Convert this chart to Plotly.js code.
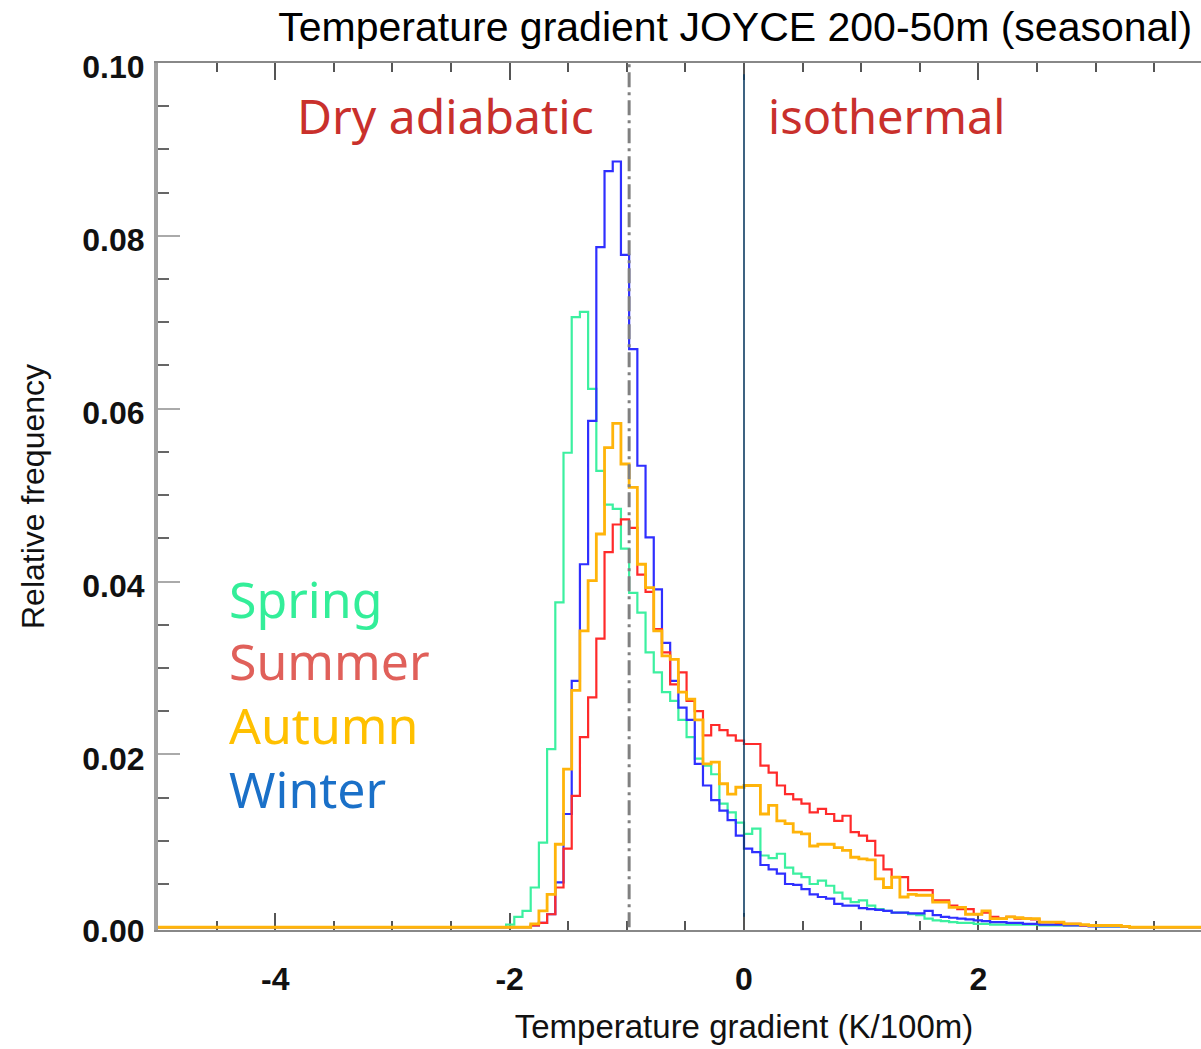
<!DOCTYPE html>
<html><head><meta charset="utf-8">
<script src="https://cdn.plot.ly/plotly-3.0.1.min.js"></script>
<style>html,body{margin:0;padding:0;overflow:hidden;background:#fff;width:1201px;height:1049px}#chart{width:1340px;height:1049px}</style>
</head><body><div id="chart"></div><script>
// Histogram bins: left edges at (firstBin + i) * binWidth  (K/100m)
const binWidth = 0.07;
const firstBin = -30;
const seasons = ["Spring", "Summer", "Autumn", "Winter"];
const xTickVals = [-4, -2, 0, 2];
const xTickText = ["-4", "-2", "0", "2"];
const spring = [0,0.0003,0.0012,0.0019,0.0046,0.0098,0.0206,0.0376,0.0549,0.0706,0.0712,0.0623,0.0528,0.0489,0.0484,0.0438,0.0387,0.0364,0.0318,0.0295,0.0272,0.0262,0.0240,0.0220,0.0195,0.0187,0.0177,0.0143,0.0133,0.0121,0.0108,0.0114,0.0083,0.0080,0.0085,0.0069,0.0062,0.0058,0.0050,0.0054,0.0048,0.0040,0.0033,0.0029,0.0031,0.0025,0.0021,0.0019,0.0017,0.0017,0.0015,0.0014,0.0010,0.0008,0.0007,0.0006,0.0005,0.0005,0.0004,0.0004,0.0003,0.0003,0.0003,0.0003,0.0003,0.0003,0.0002,0.0002,0.0002,0.0002,0.0002,0.0002,0.0002,0.0001,0.0001,0.0001,0.0001,0];
const summer = [0,0,0,0,0.0002,0.0005,0.0015,0.0046,0.0091,0.0152,0.0220,0.0266,0.0334,0.0434,0.0466,0.0472,0.0462,0.0408,0.0388,0.0345,0.0318,0.0281,0.0295,0.0262,0.0250,0.0222,0.0234,0.0228,0.0222,0.0216,0.0212,0.0212,0.0187,0.0179,0.0164,0.0154,0.0148,0.0143,0.0133,0.0137,0.0131,0.0123,0.0129,0.0110,0.0106,0.0100,0.0083,0.0067,0.0058,0.0058,0.0043,0.0043,0.0043,0.0031,0.0031,0.0025,0.0021,0.0021,0.0015,0.0017,0.0012,0.0010,0.0012,0.0010,0.0010,0.0009,0.0006,0.0006,0.0005,0.0004,0.0004,0.0002,0.0002,0.0002,0.0002,0.0002,0.0001,0];
const autumn = [0,0,0,0,0.0004,0.0019,0.0038,0.0096,0.0183,0.0274,0.0343,0.0401,0.0455,0.0555,0.0583,0.0536,0.0509,0.0420,0.0393,0.0343,0.0314,0.0310,0.0272,0.0264,0.0240,0.0189,0.0191,0.0166,0.0154,0.0162,0.0164,0.0164,0.0131,0.0141,0.0123,0.0120,0.0110,0.0108,0.0094,0.0096,0.0096,0.0092,0.0089,0.0081,0.0079,0.0078,0.0056,0.0046,0.0058,0.0035,0.0038,0.0037,0.0037,0.0029,0.0029,0.0023,0.0023,0.0015,0.0015,0.0019,0.0010,0.0010,0.0012,0.0011,0.0010,0.0010,0.0006,0.0006,0.0006,0.0004,0.0004,0.0003,0.0002,0.0002,0.0002,0.0002,0.0001,0];
const winter = [0,0,0,0,0.0002,0.0005,0.0015,0.0052,0.0131,0.0285,0.0420,0.0586,0.0787,0.0875,0.0886,0.0778,0.0669,0.0534,0.0451,0.0391,0.0329,0.0285,0.0254,0.0240,0.0189,0.0164,0.0147,0.0135,0.0124,0.0106,0.0091,0.0087,0.0072,0.0067,0.0062,0.0050,0.0049,0.0044,0.0038,0.0035,0.0033,0.0027,0.0025,0.0025,0.0022,0.0021,0.0020,0.0019,0.0017,0.0017,0.0016,0.0016,0.0019,0.0014,0.0012,0.0011,0.0010,0.0009,0.0008,0.0007,0.0006,0.0006,0.0005,0.0005,0.0004,0.0004,0.0003,0.0003,0.0003,0.0002,0.0002,0.0002,0.0001,0.0001,0.0001,0.0001,0.0001,0];
const dryAdiabatic = -0.98;
const isothermal = 0;

const xMin = -5, xMax = 5;
function stepTrace(vals, color, name) {
  const x = [xMin], y = [0];
  vals.forEach((v, i) => { x.push((firstBin + i) * binWidth); y.push(v); });
  x.push((firstBin + vals.length) * binWidth); y.push(0);
  x.push(xMax); y.push(0);
  return {x, y, type: 'scatter', mode: 'lines', name, line: {shape: 'hv', color, width: 2.2}, hoverinfo: 'skip', showlegend: false};
}
const traces = [
  stepTrace(spring, '#3cf0a0', seasons[0]),
  stepTrace(winter, '#2f2fff', seasons[3]),
  stepTrace(summer, '#ff2a2a', seasons[1]),
  stepTrace(autumn, '#ffb40a', seasons[2])
];
traces[3].line.width = 2.8;
const fam = 'Liberation Sans, Arial, sans-serif';
const annFam = 'Noto Sans, sans-serif';
const ann = (text, x, y, color, size) => ({text, x, y, xref: 'x', yref: 'y', xanchor: 'left', yanchor: 'middle', showarrow: false, font: {family: annFam, size: size || 48, color}});
const layout = {
  width: 1340, height: 1049,
  margin: {l: 158, r: 10, t: 63, b: 119},
  paper_bgcolor: '#fff', plot_bgcolor: '#fff',
  title: {text: 'Temperature gradient JOYCE 200-50m (seasonal)', font: {family: fam, size: 41, color: '#000'}, x: 0.4925, xref: 'paper', xanchor: 'center', y: 1 - 27/1049, yref: 'container', yanchor: 'middle'},
  xaxis: {range: [xMin, xMax], tickmode: 'array', tickvals: xTickVals, ticktext: xTickText, ticks: 'inside', ticklen: 17, tickwidth: 2, tickcolor: '#555',
    showline: true, linecolor: '#888', linewidth: 2, mirror: 'ticks', showgrid: false, zeroline: false, layer: 'below traces',
    minor: {tickmode: 'linear', tick0: 0, dtick: 0.5, ticks: 'inside', ticklen: 9, tickwidth: 2, tickcolor: '#555', showgrid: false},
    tickfont: {family: fam, size: 32, color: '#111', weight: 'bold'}, ticklabelstandoff: 20,
    title: {text: 'Temperature gradient (K/100m)', font: {family: fam, size: 33, color: '#111'}, standoff: 18}},
  yaxis: {range: [-0.00032, 0.1], tick0: 0, dtick: 0.02, tickformat: '.2f', ticks: 'inside', ticklen: 22, tickwidth: 2, tickcolor: '#aaa',
    showline: true, linecolor: '#a0a0a0', linewidth: 4, mirror: false, showgrid: false, zeroline: false, layer: 'below traces',
    minor: {dtick: 0.005, ticks: 'inside', ticklen: 11, tickwidth: 2, tickcolor: '#666', showgrid: false},
    tickfont: {family: fam, size: 32, color: '#111', weight: 'bold'}, ticklabelstandoff: 3, ticklabelshift: 4,
    title: {text: 'Relative frequency', font: {family: fam, size: 32, color: '#111'}, standoff: 29}},
  shapes: [
    {type: 'line', xref: 'x', yref: 'y', x0: dryAdiabatic, x1: dryAdiabatic, y0: 0, y1: 0.1, layer: 'above', line: {color: '#808080', width: 3, dash: '15px,5px,3px,5px'}},
    {type: 'line', xref: 'x', yref: 'y', x0: isothermal, x1: isothermal, y0: 0.0012, y1: 0.0987, layer: 'above', line: {color: '#0e3d63', width: 1.6}}
  ],
  annotations: [
    ann('Dry adiabatic', -3.83, 0.0939, '#c9302c'),
    ann('isothermal', 0.19, 0.0939, '#c9302c', 47),
    ann('Spring', -4.41, 0.0380, '#33ee99', 50),
    ann('Summer', -4.41, 0.0308, '#e0605a', 50),
    ann('Autumn', -4.41, 0.0234, '#ffc000', 50),
    ann('Winter', -4.41, 0.0160, '#1a70c8', 50)
  ]
};
Plotly.newPlot('chart', traces, layout, {displayModeBar: false, staticPlot: true});
</script></body></html>
